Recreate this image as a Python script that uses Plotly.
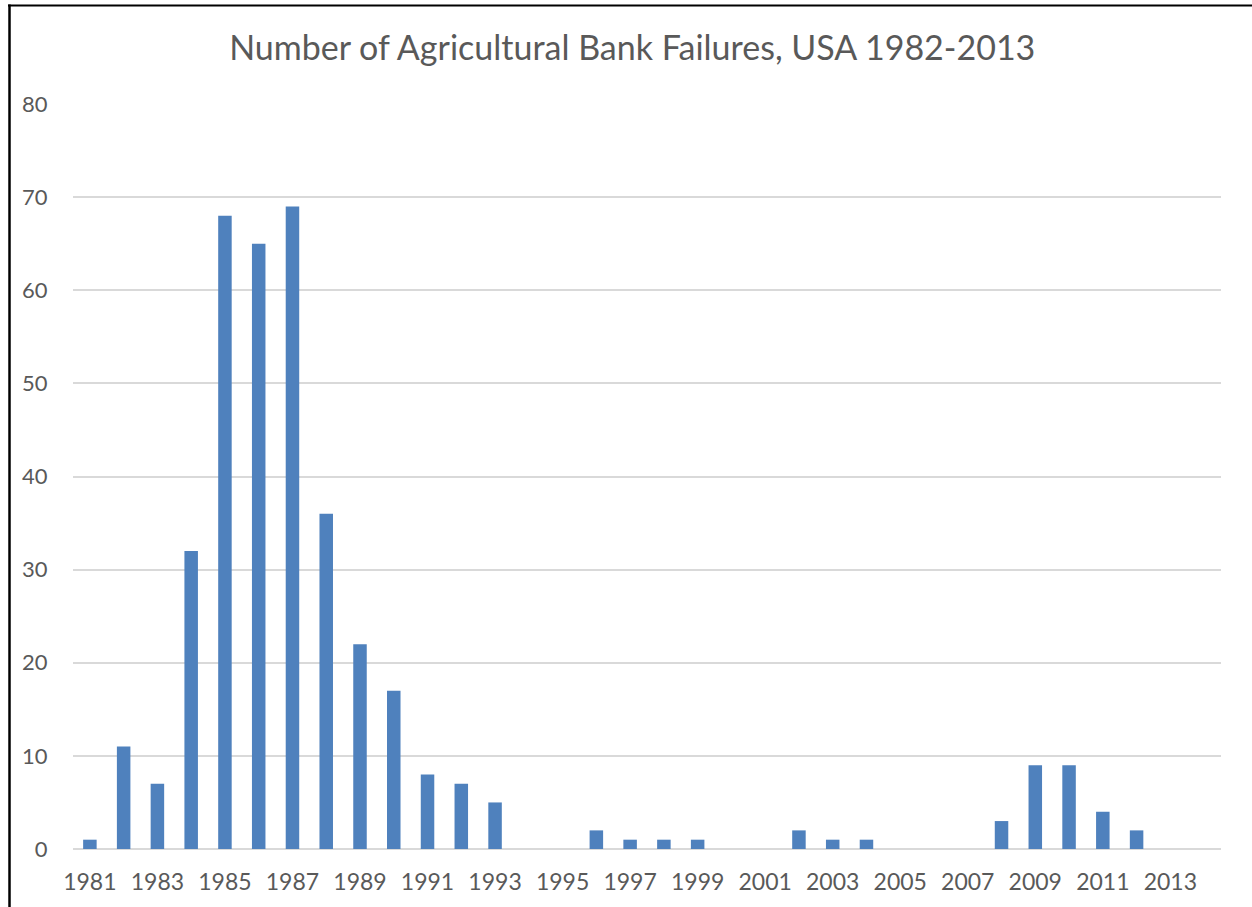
import plotly.graph_objects as go

# Agricultural bank failures per year
years = list(range(1981, 2015))
failures = [1, 11, 7, 32, 68, 65, 69, 36, 22, 17, 8, 7, 5, 0, 0, 2, 1, 1, 1, 0,
            0, 2, 1, 1, 0, 0, 0, 3, 9, 9, 4, 2, 0, 0]
y_ticks = list(range(0, 90, 10))
x_ticks = list(range(1981, 2015, 2))

title_text = "Number of Agricultural Bank Failures, USA 1982-2013"
bar_color = "#4f81bd"
text_color = "#595959"
grid_color = "#d9d9d9"
font_family = "Lato, 'Open Sans', sans-serif"

W, H = 1252, 907
ml, mr, mt, mb = 73, 31, 104, 57.5
pw, ph = W - ml - mr, H - mt - mb


def px_x(p):
    return (p - ml) / pw


def px_y(p):
    return (H - mb - p) / ph


fig = go.Figure(
    go.Bar(
        x=years,
        y=failures,
        marker=dict(color=bar_color, line=dict(width=0)),
        width=0.4,
        hoverinfo="x+y",
    )
)

fig.update_layout(
    width=W,
    height=H,
    margin=dict(l=ml, r=mr, t=mt, b=mb, autoexpand=False),
    paper_bgcolor="white",
    plot_bgcolor="white",
    showlegend=False,
    font=dict(family=font_family, color=text_color, size=22),
    title=dict(
        text=title_text,
        x=0.505,
        xanchor="center",
        y=1 - 48 / H,
        yanchor="middle",
        font=dict(family=font_family, size=34, color=text_color),
    ),
    xaxis=dict(
        range=[1980.5, 2014.5],
        tickmode="array",
        tickvals=x_ticks,
        ticktext=[str(v) for v in x_ticks],
        showgrid=False,
        zeroline=False,
        showline=False,
        ticks="outside",
        ticklen=12,
        tickcolor="rgba(0,0,0,0)",
        tickfont=dict(size=23, color=text_color),
    ),
    yaxis=dict(
        range=[0, 80],
        tickmode="array",
        tickvals=y_ticks,
        showgrid=True,
        gridcolor=grid_color,
        gridwidth=1.5,
        zeroline=True,
        zerolinecolor=grid_color,
        zerolinewidth=2,
        showline=False,
        ticks="outside",
        ticklen=20,
        tickcolor="rgba(0,0,0,0)",
        tickfont=dict(size=22, color=text_color),
    ),
    shapes=[
        # frame edges along the left and top of the page
        dict(type="line", xref="paper", yref="paper",
             x0=px_x(9.5), x1=px_x(9.5), y0=px_y(4.5), y1=px_y(H + 2),
             line=dict(color="black", width=2.5)),
        dict(type="line", xref="paper", yref="paper",
             x0=px_x(8), x1=px_x(W + 2), y0=px_y(5.5), y1=px_y(5.5),
             line=dict(color="black", width=2)),
    ],
)

fig.write_html("out.html")
